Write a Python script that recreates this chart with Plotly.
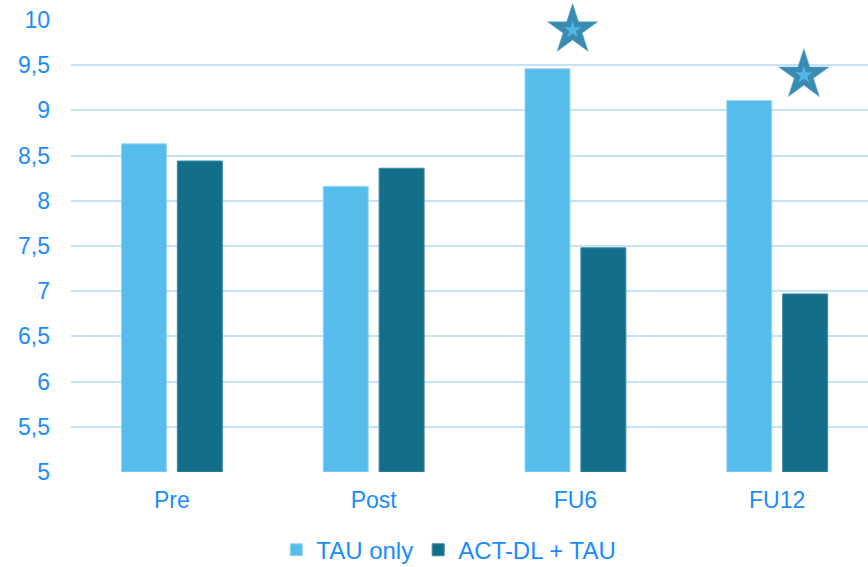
import plotly.graph_objects as go

categories = ["Pre", "Post", "FU6", "FU12"]
tau_only = [8.63, 8.16, 9.46, 9.11]
act_dl_tau = [8.44, 8.36, 7.48, 6.97]
star_x = [1.986, 3.132]
star_y = [9.89, 9.39]
y_ticks = [5, 5.5, 6, 6.5, 7, 7.5, 8, 8.5, 9, 9.5, 10]
y_tick_labels = ["5", "5,5", "6", "6,5", "7", "7,5", "8", "8,5", "9", "9,5", "10"]
series_names = ["TAU only", "ACT-DL + TAU"]

TXT = "#1A8CFF"
C_TAU = "#56BCEC"
C_ACT = "#126E89"
FS = 23
FS_LEG = 24

x_pos = list(range(len(categories)))

fig = go.Figure()
fig.add_trace(go.Bar(x=x_pos, y=[v - 5 for v in tau_only], base=5, name=series_names[0],
                     marker=dict(color=C_TAU, line=dict(color="#9AD6F3", width=1)),
                     width=0.223, offset=-0.25))
fig.add_trace(go.Bar(x=x_pos, y=[v - 5 for v in act_dl_tau], base=5, name=series_names[1],
                     marker=dict(color=C_ACT, line=dict(color="#3F8AA3", width=1)),
                     width=0.223, offset=0.027))
fig.add_trace(go.Scatter(x=star_x, y=star_y, mode="markers", showlegend=False, cliponaxis=False,
                         marker=dict(symbol="star", size=38, color="#3A8BB0",
                                     line=dict(color="#6FB3D6", width=0.5))))
fig.add_trace(go.Scatter(x=star_x, y=star_y, mode="markers", showlegend=False, cliponaxis=False,
                         marker=dict(symbol="star", size=13, color="#52B6E6", line=dict(width=0))))

fig.update_layout(
    width=868, height=567,
    margin=dict(l=71, r=0, t=20, b=95, autoexpand=False),
    plot_bgcolor="white", paper_bgcolor="white",
    barmode="overlay",
    font=dict(family="Liberation Sans, Arial, sans-serif", size=FS, color=TXT),
    xaxis=dict(range=[-0.5, 3.45], tickvals=x_pos, ticktext=categories,
               showgrid=False, zeroline=False, showline=False, ticks="",
               ticklabelstandoff=12, tickfont=dict(size=FS, color=TXT)),
    yaxis=dict(range=[5, 10], tickvals=y_ticks, ticktext=y_tick_labels,
               showgrid=True, gridcolor="#C6E2F7", gridwidth=2, zeroline=False,
               showline=False, ticks="", ticklabelstandoff=20,
               tickfont=dict(size=FS, color=TXT)),
    legend=dict(orientation="h", x=0.474, xanchor="center", y=-0.173, yanchor="middle",
                font=dict(size=FS_LEG, color=TXT), itemwidth=30, traceorder="normal"),
)

fig.write_html("out.html", config={"displayModeBar": False},
               post_script="document.body.style.margin='0';document.body.style.overflow='hidden';")
